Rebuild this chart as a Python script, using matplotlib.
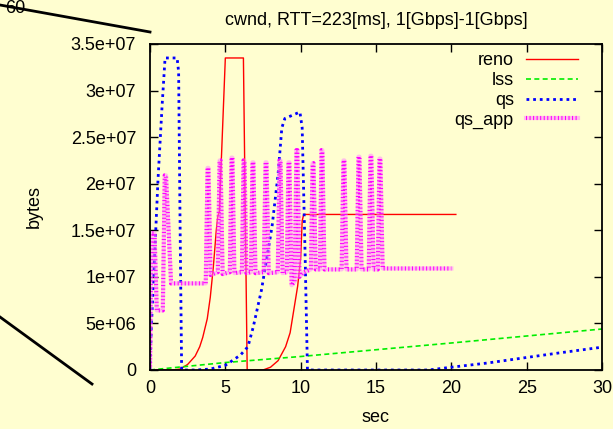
import matplotlib
matplotlib.use("Agg")
import matplotlib.pyplot as plt
from matplotlib.lines import Line2D

plt.rcParams['font.family'] = ['Liberation Sans', 'DejaVu Sans']

# ---- data ----
reno_t = [0, 1.5, 2.0, 2.5, 3.0, 3.3, 3.5, 3.8, 4.0, 4.2, 4.4, 4.5, 4.6, 5.0, 6.2, 6.45,
          7.5, 8.0, 8.5, 9.0, 9.3, 9.6, 9.8, 10.0, 10.1, 10.2, 20.3]
reno_v = [0, 0, 1e5, 6e5, 1.5e6, 2.5e6, 3.5e6, 5.5e6, 7.8e6, 1.1e7, 1.5e7, 1.65e7, 1.7e7, 3.35e7, 3.35e7, 0,
          0, 3e5, 1.0e6, 2.5e6, 4e6, 7e6, 9e6, 1.2e7, 1.6e7, 1.67e7, 1.67e7]

lss_t = [0, 5, 10, 20, 30]
lss_v = [0, 0.8e6, 1.45e6, 2.9e6, 4.4e6]

qs_t = [0, 0.1, 0.3, 0.53, 0.8, 1.0, 1.8, 1.9, 2.0, 2.1, 3.0, 4.0, 5.0, 6.0, 6.5, 6.85, 7.4, 8.1,
        8.5, 8.75, 8.95, 9.95, 10.1, 10.3, 10.45, 18.5, 20.0, 22.4, 24.8, 27.0, 30.0]
qs_v = [0, 5e6, 1.2e7, 2.04e7, 2.83e7, 3.35e7, 3.35e7, 3.2e7, 1.5e7, 0, 0, 1e5, 5e5, 1.6e6, 2.5e6, 4.6e6, 8.6e6, 1.54e7,
        2.1e7, 2.6e7, 2.7e7, 2.77e7, 2.6e7, 1.2e7, 0, 0, 3e5, 7.5e5, 1.3e6, 1.8e6, 2.45e6]

qs_app_t = [0.00, 0.08, 0.30, 0.45, 0.85, 0.98, 1.06, 1.15, 1.40, 3.70,
            3.82, 3.88, 4.02, 4.50,
            4.62, 4.68, 4.82, 5.30,
            5.41, 5.47, 5.60, 6.10,
            6.21, 6.27, 6.40, 6.70,
            6.80, 6.86, 7.00, 7.55,
            7.67, 7.73, 7.88, 8.48,
            8.60, 8.66, 8.80, 9.08,
            9.19, 9.25, 9.40, 9.60,
            9.72, 9.78, 9.92, 10.20, 10.68,
            10.79, 10.85, 11.00, 11.28,
            11.38, 11.44, 11.58, 12.72,
            12.84, 12.90, 13.04, 13.72,
            13.84, 13.90, 14.04, 14.52,
            14.63, 14.69, 14.84, 15.12,
            15.23, 15.29, 15.44, 20.0]
qs_app_v = [0.0, 1.47e7, 1.47e7, 6.4e6, 6.4e6, 2.09e7, 2.09e7, 1.79e7, 9.3e6, 9.3e6,
            2.17e7, 2.17e7, 1.02e7, 1.05e7,
            2.25e7, 2.25e7, 1.03e7, 1.05e7,
            2.28e7, 2.28e7, 1.04e7, 1.05e7,
            2.25e7, 2.25e7, 1.04e7, 1.05e7,
            2.23e7, 2.23e7, 1.04e7, 1.05e7,
            2.23e7, 2.23e7, 1.04e7, 1.05e7,
            2.25e7, 2.25e7, 1.04e7, 1.05e7,
            2.23e7, 2.23e7, 9.1e6, 9.5e6,
            2.36e7, 2.36e7, 1.0e7, 1.05e7, 1.08e7,
            2.22e7, 2.22e7, 1.08e7, 1.08e7,
            2.36e7, 2.36e7, 1.08e7, 1.08e7,
            2.25e7, 2.25e7, 1.08e7, 1.08e7,
            2.29e7, 2.29e7, 1.08e7, 1.08e7,
            2.30e7, 2.30e7, 1.08e7, 1.08e7,
            2.27e7, 2.27e7, 1.09e7, 1.09e7]

x_ticks = [0, 5, 10, 15, 20, 25, 30]
y_ticks = [0, 5e6, 1e7, 1.5e7, 2e7, 2.5e7, 3e7, 3.5e7]
y_tick_labels = ['0', '5e+06', '1e+07', '1.5e+07', '2e+07', '2.5e+07', '3e+07', '3.5e+07']

bg = '#fffed0'
fs = 13

fig = plt.figure(figsize=(6.13, 4.29), dpi=100, facecolor=bg)
ax = fig.add_axes([150/613, 1 - 370/429, 452/613, 326/429])
ax.set_facecolor(bg)

l_reno, = ax.plot(reno_t, reno_v, color='#ff0000', lw=1.0, label='reno')
l_lss, = ax.plot(lss_t, lss_v, color='#00ee00', lw=1.2, dashes=(3, 2), label='lss')
l_qs, = ax.plot(qs_t, qs_v, color='#0000ff', lw=2.0, dashes=(1, 1.4), label='qs')
l_app1, = ax.plot(qs_app_t, qs_app_v, color='#ff88ff', lw=3.0, alpha=0.55)
l_app2, = ax.plot(qs_app_t, qs_app_v, color='#ff00ff', lw=3.0, dashes=(0.25, 0.6))

ax.set_xlim(0, 30)
ax.set_ylim(0, 3.5e7)
ax.set_xticks(x_ticks)
ax.set_xticklabels([str(v) for v in x_ticks])
ax.set_yticks(y_ticks)
ax.set_yticklabels(y_tick_labels)
ax.tick_params(direction='in', length=6, width=1, top=True, right=True, labelsize=fs)
ax.tick_params(axis='y', pad=10)
ax.tick_params(axis='x', pad=7)
for s in ax.spines.values():
    s.set_linewidth(1.3)

ax.set_title('cwnd, RTT=223[ms], 1[Gbps]-1[Gbps]', fontsize=fs, pad=14)
ax.set_xlabel('sec', fontsize=fs, labelpad=9)
ax.set_ylabel('bytes', fontsize=fs, labelpad=20)

ax.legend([l_reno, l_lss, l_qs, (l_app1, l_app2)], ['reno', 'lss', 'qs', 'qs_app'],
          loc='upper right', bbox_to_anchor=(0.947, 0.975), borderaxespad=0, borderpad=0,
          frameon=False, markerfirst=False, handlelength=2.9, handletextpad=0.66,
          labelspacing=0.16, fontsize=fs)

# stray strokes at the left edge of the original picture
fig.add_artist(Line2D([0, 150/613], [1 - 5/429, 1 - 32/429], color='black', lw=2))
fig.add_artist(Line2D([0, 92/613], [1 - 317/429, 1 - 384/429], color='black', lw=2))
fig.text(5/613, 1 - 17/429, '60', fontsize=fs, ha='left', va='bottom')

fig.savefig('out.png', dpi=100, facecolor=bg)
